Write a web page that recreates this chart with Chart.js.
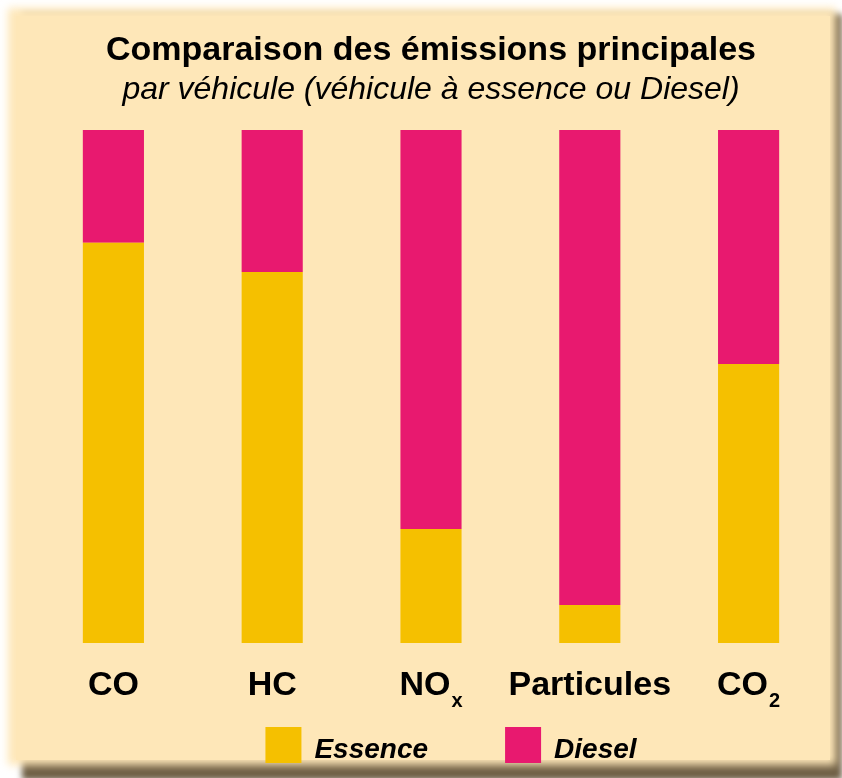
<!DOCTYPE html>
<html>
<head>
<meta charset="utf-8">
<script src="https://cdn.jsdelivr.net/npm/chart.js@4/dist/chart.umd.min.js"></script>
<style>
  html, body { margin: 0; padding: 0; background: #ffffff; }
  #wrap { width: 842px; height: 778px; position: relative; }
</style>
</head>
<body>
<div id="wrap"><canvas id="c"></canvas></div>
<script>
// ---- data ----
const categories = ['CO', 'HC', 'NOx', 'Particules', 'CO2'];
const tickMain = ['CO', 'HC', 'NO', 'Particules', 'CO'];
const tickSub = ['', '', 'x', '', '2'];
const essence = [78.0, 72.3, 22.2, 7.4, 54.4];
const diesel = [22.0, 27.7, 77.8, 92.6, 45.6];
const seriesNames = ['Essence', 'Diesel'];
const titleText = 'Comparaison des émissions principales';
const subtitleText = 'par véhicule (véhicule à essence ou Diesel)';

const FONT = "'Liberation Sans', Arial, Helvetica, sans-serif";
const COL_ESS = '#f5c000';
const COL_DIE = '#e8196f';
const PANEL = '#fee7b8';

const panelPlugin = {
  id: 'panel',
  beforeDraw(chart) {
    const ctx = chart.ctx;
    ctx.save();
    ctx.fillStyle = '#ffffff';
    ctx.fillRect(0, 0, chart.width, chart.height);
    // shadow
    ctx.filter = 'blur(3px)';
    ctx.fillStyle = '#6e5e44';
    ctx.fillRect(22, 14, 820, 766);
    // panel
    ctx.filter = 'blur(4px)';
    ctx.fillStyle = PANEL;
    ctx.fillRect(8, 8, 828, 757);
    ctx.filter = 'none';
    ctx.fillStyle = PANEL;
    ctx.fillRect(16, 16, 814, 744);
    ctx.restore();
  }
};

const ticksPlugin = {
  id: 'subTicks',
  afterDraw(chart) {
    const ctx = chart.ctx;
    const xs = chart.scales.x;
    const baseY = chart.chartArea.bottom + 52;
    ctx.save();
    ctx.fillStyle = '#000000';
    ctx.textBaseline = 'alphabetic';
    ctx.textAlign = 'left';
    for (let i = 0; i < tickMain.length; i++) {
      const cx = xs.getPixelForValue(i);
      ctx.font = 'bold 34px ' + FONT;
      const wm = ctx.measureText(tickMain[i]).width;
      ctx.font = 'bold 20px ' + FONT;
      const ws = tickSub[i] ? ctx.measureText(tickSub[i]).width + 1 : 0;
      const x0 = cx - (wm + ws) / 2;
      ctx.font = 'bold 34px ' + FONT;
      ctx.fillText(tickMain[i], x0, baseY);
      if (tickSub[i]) {
        ctx.font = 'bold 20px ' + FONT;
        ctx.fillText(tickSub[i], x0 + wm + 1, baseY + 12);
      }
    }
    ctx.restore();
  }
};

const legendPlugin = {
  id: 'customLegend',
  afterDraw(chart) {
    const ctx = chart.ctx;
    const box = 36, gapText = 13, gapItem = 77;
    ctx.save();
    ctx.font = 'italic bold 28px ' + FONT;
    const items = chart.data.datasets.map(d => ({
      label: d.label, color: d.backgroundColor,
      w: box + gapText + ctx.measureText(d.label).width
    }));
    const total = items.reduce((s, it) => s + it.w, 0) + gapItem * (items.length - 1);
    const center = (chart.chartArea.left + chart.chartArea.right) / 2 + 20;
    let x = center - total / 2;
    const top = chart.chartArea.bottom + 84;
    items.forEach(it => {
      ctx.fillStyle = it.color;
      ctx.fillRect(x, top, box, box);
      ctx.fillStyle = '#000000';
      ctx.textBaseline = 'alphabetic';
      ctx.textAlign = 'left';
      ctx.fillText(it.label, x + box + gapText, top + 31);
      x += it.w + gapItem;
    });
    ctx.restore();
  }
};

new Chart(document.getElementById('c'), {
  type: 'bar',
  data: {
    labels: categories,
    datasets: [
      { label: seriesNames[0], data: essence, backgroundColor: COL_ESS, borderWidth: 0 },
      { label: seriesNames[1], data: diesel, backgroundColor: COL_DIE, borderWidth: 0 }
    ]
  },
  options: {
    responsive: true,
    maintainAspectRatio: false,
    animation: false,
    layout: { padding: { top: 30, left: 34, right: 14, bottom: 135 } },
    datasets: { bar: { barPercentage: 0.385, categoryPercentage: 1.0 } },
    scales: {
      x: { stacked: true, display: false },
      y: { stacked: true, display: false, min: 0, max: 100 }
    },
    plugins: {
      legend: { display: false },
      tooltip: { enabled: false },
      title: {
        display: true, text: titleText, color: '#000000',
        font: { family: FONT, size: 34, weight: 'bold', lineHeight: 1.2 },
        padding: { top: 0, bottom: 0 }
      },
      subtitle: {
        display: true, text: subtitleText, color: '#000000',
        font: { family: FONT, size: 32, style: 'italic', weight: 'normal', lineHeight: 1.1 },
        padding: { top: 2, bottom: 22 }
      }
    }
  },
  plugins: [panelPlugin, ticksPlugin, legendPlugin]
});
</script>
</body>
</html>
